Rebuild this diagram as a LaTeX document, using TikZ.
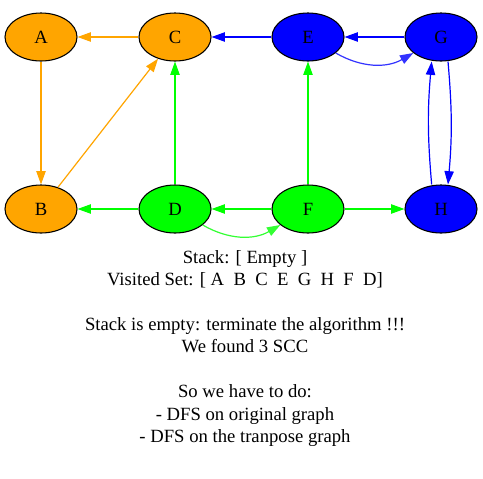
\documentclass[tikz,border=0pt]{standalone}
\usepackage{fontspec}
\setmainfont{Liberation Serif}
\usetikzlibrary{arrows.meta,shapes.geometric}
\definecolor{vorange}{HTML}{FFA500}
\definecolor{vgreen}{HTML}{00FF00}
\definecolor{vblue}{HTML}{0000FF}
\definecolor{lblue}{HTML}{3333FF}
\definecolor{lgreen}{HTML}{33FF33}
\begin{document}
\begin{tikzpicture}[x=0.75pt,y=-0.75pt,
  vtx/.style={ellipse,draw=black,line width=0.8pt,minimum width=54pt,minimum height=36pt,inner sep=0pt,
    font=\fontsize{14pt}{16.8pt}\selectfont},
  arr/.style={line width=0.9pt,-{Triangle[length=10pt,width=7pt]}}]
\useasboundingbox[fill=white] (0,0) rectangle (483,479);
\node[vtx,fill=vorange] (A) at (41,37) {A};
\node[vtx,fill=vorange] (C) at (175,37) {C};
\node[vtx,fill=vblue] (E) at (308,37) {E};
\node[vtx,fill=vblue] (G) at (441,37) {G};
\node[vtx,fill=vorange] (B) at (41,209) {B};
\node[vtx,fill=vgreen] (D) at (175,209) {D};
\node[vtx,fill=vgreen] (F) at (308,209) {F};
\node[vtx,fill=vblue] (H) at (441,209) {H};
% orange
\draw[arr,vorange] (C) -- (A);
\draw[arr,vorange] (A) -- (B);
\draw[arr,vorange] (B) -- (C);
% blue
\draw[arr,vblue] (E) -- (C);
\draw[arr,vblue] (G) -- (E);
\draw[arr,lblue] (E) to[bend right=30] (G);
\draw[arr,vblue] ([xshift=5.25pt]G.south) to[bend left=5] ([xshift=5.25pt]H.north);
\draw[arr,vblue] ([xshift=-7pt]H.north) to[bend left=5] ([xshift=-7pt]G.south);
% green
\draw[arr,vgreen] (D) -- (C);
\draw[arr,vgreen] (F) -- (E);
\draw[arr,vgreen] (D) -- (B);
\draw[arr,vgreen] (F) -- (D);
\draw[arr,lgreen] (D) to[bend right=30] (F);
\draw[arr,vgreen] (F) -- (H);
\node[align=center,font=\fontsize{14pt}{16.8pt}\selectfont] (txt) at (245,348.5) {Stack: [ Empty ]\\
Visited Set: [ A\ \ B\ \ C\ \ E\ \ G\ \ H\ \ F\ \ D]\\
\strut\\
Stack is empty: terminate the algorithm !!!\\
We found 3 SCC\\
\strut\\
So we have to do:\\
- DFS on original graph\\
- DFS on the tranpose graph};
\end{tikzpicture}
\end{document}
